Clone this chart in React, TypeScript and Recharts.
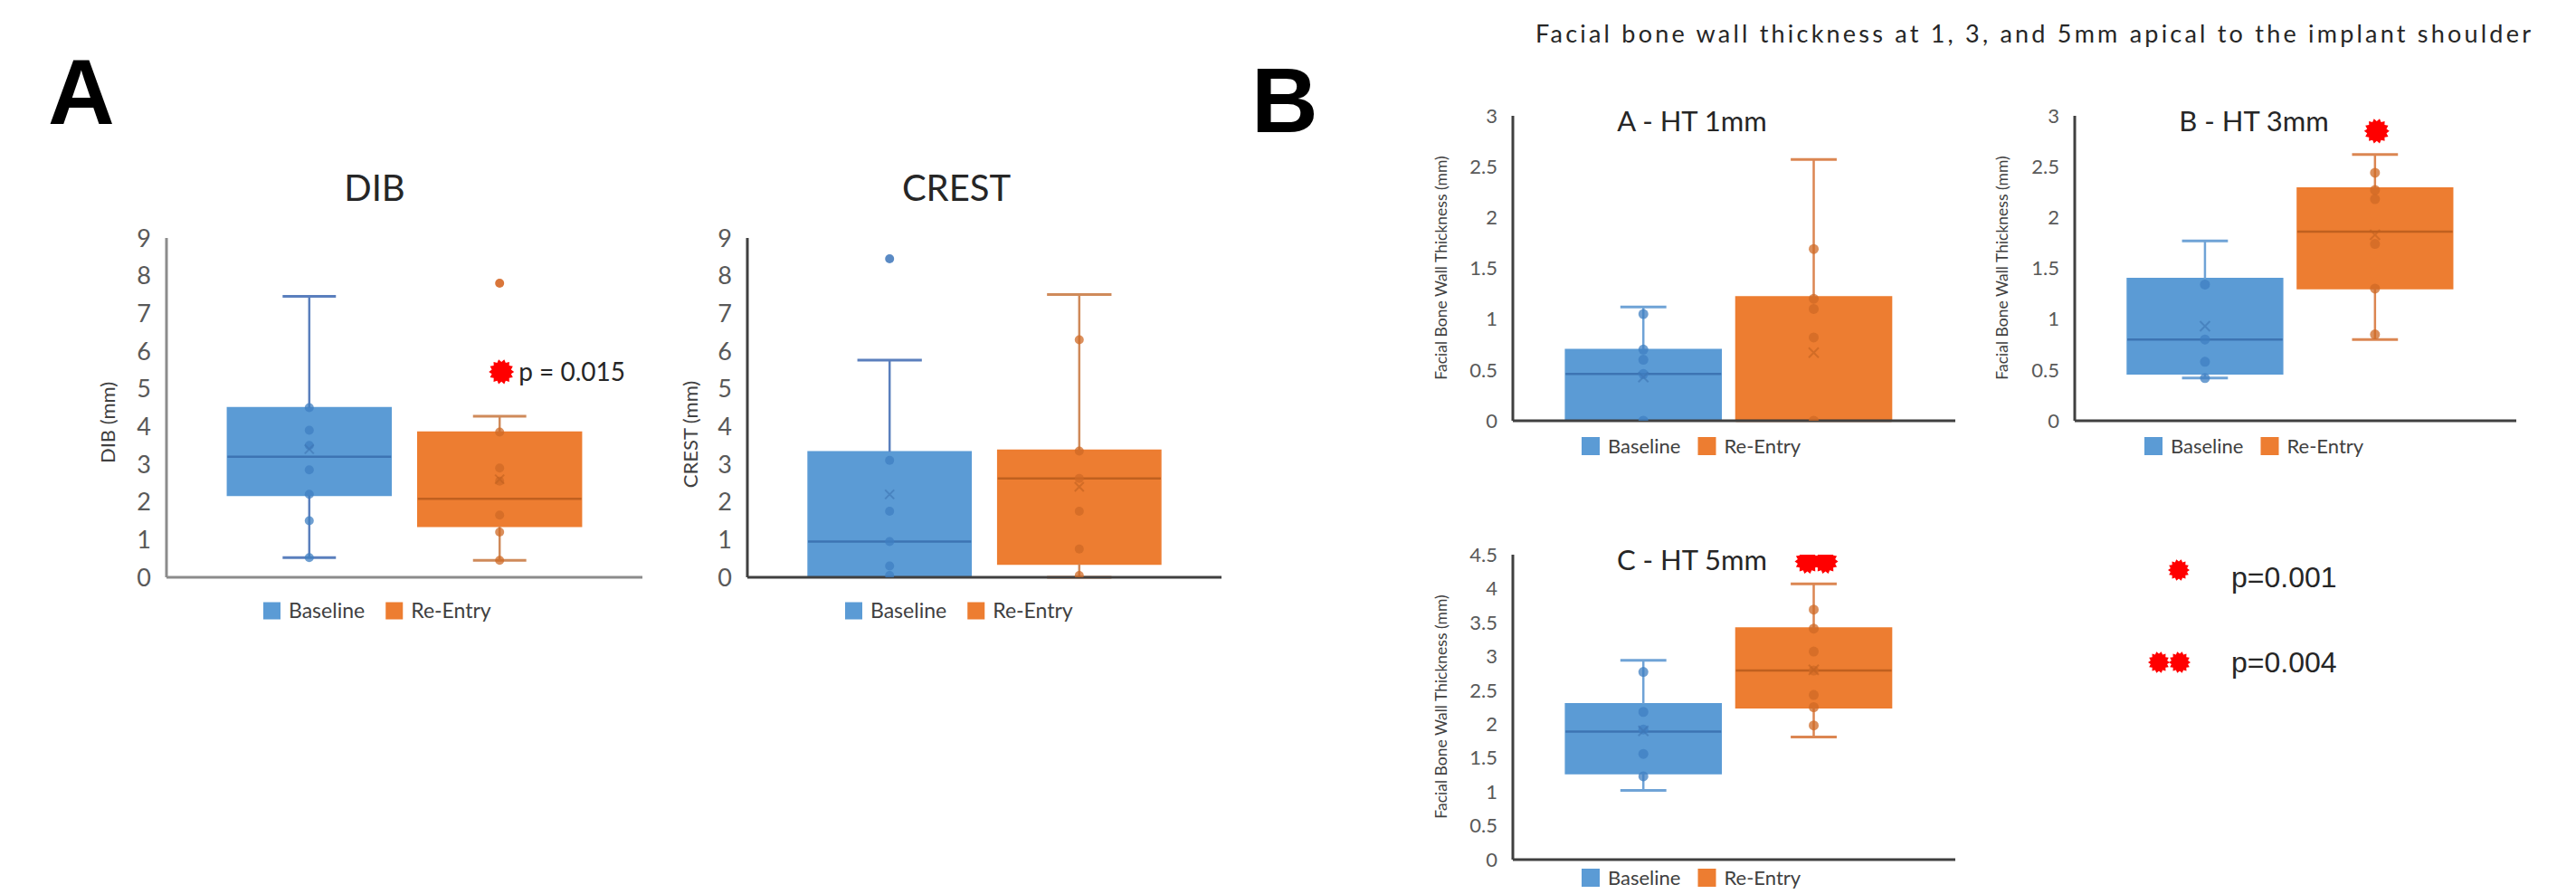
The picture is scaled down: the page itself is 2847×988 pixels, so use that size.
import React from "react";
import { ComposedChart, ReferenceArea, ReferenceLine, Scatter, XAxis, YAxis } from "recharts";

const FONT = "Lato, 'Open Sans', sans-serif";
const BLUE = "#5b9bd5";
const ORANGE = "#ed7d31";

const groups = ["Baseline", "Re-Entry"];

// each box: [min, q1, median, q3, max]
const dibBox = [
  [0.52, 2.17, 3.2, 4.5, 7.45],
  [0.45, 1.35, 2.08, 3.85, 4.27],
];
const dibMean = [3.4, 2.6];
const dibPoints = [
  [4.5, 3.9, 3.5, 2.85, 2.2, 1.5, 0.52],
  [3.85, 2.9, 2.55, 1.65, 1.2, 0.45],
];
const dibOutliers = [[], [7.8]];
const dibStar = [2, 5.45];

const crestBox = [
  [0, 0, 0.95, 3.33, 5.76],
  [0, 0.35, 2.62, 3.37, 7.5],
];
const crestMean = [2.2, 2.4];
const crestPoints = [
  [3.1, 1.75, 0.95, 0.3, 0.05],
  [6.3, 3.35, 2.62, 1.75, 0.75, 0.05],
];
const crestOutliers = [[8.45], []];

const ht1Box = [
  [0, 0, 0.46, 0.7, 1.12],
  [0, 0, 0, 1.22, 2.57],
];
const ht1Mean = [0.43, 0.67];
const ht1Points = [
  [1.05, 0.7, 0.6, 0.46, 0],
  [1.69, 1.2, 1.1, 0.82, 0],
];

const ht3Box = [
  [0.42, 0.46, 0.8, 1.4, 1.77],
  [0.8, 1.3, 1.86, 2.29, 2.62],
];
const ht3Mean = [0.93, 1.83];
const ht3Points = [
  [1.34, 0.8, 0.58, 0.42],
  [2.44, 2.27, 2.18, 1.74, 1.3, 0.85],
];
const ht3Star = [2, 2.85];

const ht5Box = [
  [1.02, 1.27, 1.89, 2.3, 2.94],
  [1.81, 2.24, 2.79, 3.42, 4.07],
];
const ht5Mean = [1.9, 2.8];
const ht5Points = [
  [2.77, 2.18, 1.92, 1.56, 1.23],
  [3.69, 3.41, 3.07, 2.79, 2.43, 2.25, 1.98],
];
const ht5Star = [2, 4.4];

const ticks9 = [0, 1, 2, 3, 4, 5, 6, 7, 8, 9];
const ticks3 = [0, 0.5, 1, 1.5, 2, 2.5, 3];
const ticks45 = [0, 0.5, 1, 1.5, 2, 2.5, 3, 3.5, 4, 4.5];

const pLegend = ["p=0.001", "p=0.004"];

function burst(cx: number, cy: number, r: number) {
  const n = 14;
  const pts: string[] = [];
  for (let i = 0; i < n * 2; i++) {
    const rr = i % 2 === 0 ? r : r * 0.78;
    const a = (Math.PI * i) / n;
    pts.push(`${(cx + rr * Math.cos(a)).toFixed(1)},${(cy + rr * Math.sin(a)).toFixed(1)}`);
  }
  return pts.join(" ");
}

function BoxChart(props: any) {
  const { box, mean, points, outliers = [[], []], ticks, frame, xDomain, halfW, capHalf, axisColor, tickSize, dotR, star, whisk } = props;
  const { x0, x1, yTop, y0 } = frame;
  const padL = 120;
  const padR = 20;
  const padT = 24;
  const padB = 20;
  const fills = [BLUE, ORANGE];
  const dotFill = ["#3f7fc2", "#cf6a26"];
  const medColor = ["#3d74b3", "#c0601f"];
  const dots = points.flatMap((vals: number[], g: number) => vals.map((y) => ({ x: g + 1, y, g })));
  const outs = outliers.flatMap((vals: number[], g: number) => vals.map((y) => ({ x: g + 1, y, g })));
  const means = mean.map((y: number, g: number) => ({ x: g + 1, y, g }));
  const stars = star ? [{ x: star.pos[0], y: star.pos[1] }] : [];

  return (
    <div style={{ position: "absolute", left: x0 - padL, top: yTop - padT }}>
      <ComposedChart
        width={x1 - x0 + padL + padR}
        height={y0 - yTop + padT + padB}
        margin={{ top: padT, right: padR, bottom: padB - 2, left: 0 }}
      >
        <XAxis
          type="number"
          dataKey="x"
          domain={xDomain}
          allowDataOverflow
          tick={false}
          tickLine={false}
          height={2}
          axisLine={{ stroke: axisColor, strokeWidth: 3 }}
        />
        <YAxis
          type="number"
          dataKey="y"
          domain={[0, ticks[ticks.length - 1]]}
          ticks={ticks}
          interval={0}
          allowDataOverflow
          width={padL}
          tickLine={false}
          tickMargin={11}
          axisLine={{ stroke: axisColor, strokeWidth: 3 }}
          tick={{ fill: "#595959", fontSize: tickSize, fontFamily: FONT }}
        />
        {box.map((b: number[], g: number) => (
          <ReferenceArea
            key={`box${g}`}
            x1={g + 1 - halfW}
            x2={g + 1 + halfW}
            y1={b[1]}
            y2={b[3]}
            fill={fills[g]}
            fillOpacity={1}
            stroke={fills[g]}
            strokeWidth={1.5}
            ifOverflow="visible"
          />
        ))}
        {box.map((b: number[], g: number) => (
          <ReferenceLine
            key={`med${g}`}
            segment={[{ x: g + 1 - halfW, y: b[2] }, { x: g + 1 + halfW, y: b[2] }]}
            stroke={medColor[g]}
            strokeWidth={2.5}
            ifOverflow="visible"
          />
        ))}
        {box.map((b: number[], g: number) =>
          b[4] > b[3] ? (
            <ReferenceLine
              key={`wt${g}`}
              segment={[{ x: g + 1, y: b[3] }, { x: g + 1, y: b[4] }]}
              stroke={whisk[g]}
              strokeWidth={2.5}
              ifOverflow="visible"
            />
          ) : null
        )}
        {box.map((b: number[], g: number) =>
          b[4] > b[3] ? (
            <ReferenceLine
              key={`ct${g}`}
              segment={[{ x: g + 1 - capHalf, y: b[4] }, { x: g + 1 + capHalf, y: b[4] }]}
              stroke={whisk[g]}
              strokeWidth={3}
              ifOverflow="visible"
            />
          ) : null
        )}
        {box.map((b: number[], g: number) =>
          b[1] > b[0] ? (
            <ReferenceLine
              key={`wb${g}`}
              segment={[{ x: g + 1, y: b[0] }, { x: g + 1, y: b[1] }]}
              stroke={whisk[g]}
              strokeWidth={2.5}
              ifOverflow="visible"
            />
          ) : null
        )}
        {box.map((b: number[], g: number) =>
          b[1] > b[0] ? (
            <ReferenceLine
              key={`cb${g}`}
              segment={[{ x: g + 1 - capHalf, y: b[0] }, { x: g + 1 + capHalf, y: b[0] }]}
              stroke={whisk[g]}
              strokeWidth={3}
              ifOverflow="visible"
            />
          ) : null
        )}
        <Scatter
          data={dots}
          dataKey="y"
          isAnimationActive={false}
          shape={(p: any) => (
            <circle cx={p.cx} cy={p.cy} r={dotR} fill={dotFill[p.payload.g]} fillOpacity={0.75} />
          )}
        />
        <Scatter
          data={outs}
          dataKey="y"
          isAnimationActive={false}
          shape={(p: any) => (
            <circle cx={p.cx} cy={p.cy} r={dotR} fill={p.payload.g === 0 ? "#5a8ac4" : "#d9763a"} />
          )}
        />
        <Scatter
          data={means}
          dataKey="y"
          isAnimationActive={false}
          shape={(p: any) => {
            const s = dotR;
            return (
              <path
                d={`M${p.cx - s},${p.cy - s}L${p.cx + s},${p.cy + s}M${p.cx - s},${p.cy + s}L${p.cx + s},${p.cy - s}`}
                stroke={medColor[p.payload.g]}
                strokeOpacity={0.6}
                strokeWidth={2}
              />
            );
          }}
        />
        {star ? (
          <Scatter
            data={stars}
            dataKey="y"
            isAnimationActive={false}
            shape={(p: any) => (
              <g>
                {star.marks === 2 ? (
                  <>
                    <polygon points={burst(p.cx - 7, p.cy, 14)} fill="#ff0000" />
                    <polygon points={burst(p.cx + 13, p.cy, 14)} fill="#ff0000" />
                  </>
                ) : (
                  <polygon points={burst(p.cx + 2, p.cy, 14)} fill="#ff0000" />
                )}
                {star.label ? (
                  <text x={p.cx + 21} y={p.cy + 10} fontSize={28} fontFamily={FONT} fill="#262626">
                    {star.label}
                  </text>
                ) : null}
              </g>
            )}
          />
        ) : null}
      </ComposedChart>
    </div>
  );
}

function Legend2({ x, y, sq, gap, size }: any) {
  // two entries: square + name
  const w0 = size * 3.75;
  return (
    <g>
      {groups.map((name, i) => {
        const bx = x + i * (sq + 8 + w0 + gap);
        return (
          <g key={name}>
            <rect x={bx} y={y - sq / 2} width={sq} height={sq} fill={i === 0 ? BLUE : ORANGE} />
            <text x={bx + sq + 9} y={y + size * 0.36} fontSize={size} fontFamily={FONT} fill="#404040">
              {name}
            </text>
          </g>
        );
      })}
    </g>
  );
}

export default function App() {
  const blueWhiskA = ["#5a7fbd", "#cf8a5a"];
  const blueWhiskB = ["#6fa3d6", "#db8652"];
  const domA: [number, number] = [0.25, 2.75];
  const domB: [number, number] = [0.234, 2.831];
  return (
    <div
      style={{
        position: "absolute",
        left: 0,
        top: 0,
        width: 2847,
        height: 988,
        background: "#fff",
        overflow: "hidden",
      }}
    >
      <svg width={2847} height={988} style={{ position: "absolute", left: 0, top: 0 }}>
        <text x={53} y={137} fontSize={102} fontWeight={700} fontFamily="'Liberation Sans', Arial, sans-serif" fill="#000">
          A
        </text>
        <text x={1383} y={146} fontSize={102} fontWeight={700} fontFamily="'Liberation Sans', Arial, sans-serif" fill="#000">
          B
        </text>
        <text x={2247} y={47} fontSize={27} fontFamily={FONT} fill="#262626" textAnchor="middle" textLength={1100} lengthAdjust="spacing">
          Facial bone wall thickness at 1, 3, and 5mm apical to the implant shoulder
        </text>

        <text x={414} y={222} fontSize={40} fontFamily={FONT} fill="#262626" textAnchor="middle">DIB</text>
        <text x={1057} y={222} fontSize={40} fontFamily={FONT} fill="#262626" textAnchor="middle">CREST</text>
        <text x={118} y={467} fontSize={22} fontFamily={FONT} fill="#404040" textAnchor="middle" dominantBaseline="central" transform="rotate(-90 118 467)">DIB (mm)</text>
        <text x={762} y={480} fontSize={22} fontFamily={FONT} fill="#404040" textAnchor="middle" dominantBaseline="central" transform="rotate(-90 762 480)">CREST (mm)</text>
        <Legend2 x={291} y={675} sq={19} gap={22} size={23} />
        <Legend2 x={934} y={675} sq={19} gap={22} size={23} />

        <text x={1870} y={145} fontSize={31} fontFamily={FONT} fill="#262626" textAnchor="middle">A - HT 1mm</text>
        <text x={2491} y={145} fontSize={31} fontFamily={FONT} fill="#262626" textAnchor="middle">B - HT 3mm</text>
        <text x={1870} y={630} fontSize={31} fontFamily={FONT} fill="#262626" textAnchor="middle">C - HT 5mm</text>
        {[
          [1592, 296],
          [2212, 296],
          [1592, 781],
        ].map(([cx, cy], i) => (
          <text key={i} x={cx} y={cy} fontSize={17.5} fontFamily={FONT} fill="#404040" textAnchor="middle" dominantBaseline="central" transform={`rotate(-90 ${cx} ${cy})`}>
            Facial Bone Wall Thickness (mm)
          </text>
        ))}
        <Legend2 x={1748} y={493} sq={20} gap={18} size={22} />
        <Legend2 x={2370} y={493} sq={20} gap={18} size={22} />
        <Legend2 x={1748} y={970} sq={20} gap={18} size={22} />

        <polygon points={burst(2408, 630, 12)} fill="#ff0000" />
        <polygon points={burst(2386, 732, 12)} fill="#ff0000" />
        <polygon points={burst(2409, 732, 12)} fill="#ff0000" />
        <text x={2466} y={649} fontSize={32} fontFamily="'Liberation Sans', Arial, sans-serif" fill="#262626">{pLegend[0]}</text>
        <text x={2466} y={743} fontSize={32} fontFamily="'Liberation Sans', Arial, sans-serif" fill="#262626">{pLegend[1]}</text>
      </svg>

      <BoxChart
        box={dibBox}
        mean={dibMean}
        points={dibPoints}
        outliers={dibOutliers}
        ticks={ticks9}
        frame={{ x0: 184, x1: 710, yTop: 263, y0: 638 }}
        xDomain={domA}
        halfW={0.43}
        capHalf={0.14}
        axisColor="#8c8c8c"
        tickSize={27}
        dotR={5}
        whisk={blueWhiskA}
        star={{ pos: dibStar, marks: 1, label: "p = 0.015" }}
      />
      <BoxChart
        box={crestBox}
        mean={crestMean}
        points={crestPoints}
        outliers={crestOutliers}
        ticks={ticks9}
        frame={{ x0: 826, x1: 1350, yTop: 263, y0: 638 }}
        xDomain={domA}
        halfW={0.43}
        capHalf={0.17}
        axisColor="#404040"
        tickSize={27}
        dotR={5}
        whisk={blueWhiskA}
      />
      <BoxChart
        box={ht1Box}
        mean={ht1Mean}
        points={ht1Points}
        ticks={ticks3}
        frame={{ x0: 1672, x1: 2161, yTop: 128, y0: 465 }}
        xDomain={domB}
        halfW={0.457}
        capHalf={0.135}
        axisColor="#404040"
        tickSize={22}
        dotR={5.5}
        whisk={blueWhiskB}
      />
      <BoxChart
        box={ht3Box}
        mean={ht3Mean}
        points={ht3Points}
        ticks={ticks3}
        frame={{ x0: 2293, x1: 2781, yTop: 128, y0: 465 }}
        xDomain={domB}
        halfW={0.457}
        capHalf={0.135}
        axisColor="#404040"
        tickSize={22}
        dotR={5.5}
        whisk={blueWhiskB}
        star={{ pos: ht3Star, marks: 1 }}
      />
      <BoxChart
        box={ht5Box}
        mean={ht5Mean}
        points={ht5Points}
        ticks={ticks45}
        frame={{ x0: 1672, x1: 2161, yTop: 613, y0: 950 }}
        xDomain={domB}
        halfW={0.457}
        capHalf={0.135}
        axisColor="#404040"
        tickSize={22}
        dotR={5.5}
        whisk={blueWhiskB}
        star={{ pos: ht5Star, marks: 2 }}
      />
    </div>
  );
}
